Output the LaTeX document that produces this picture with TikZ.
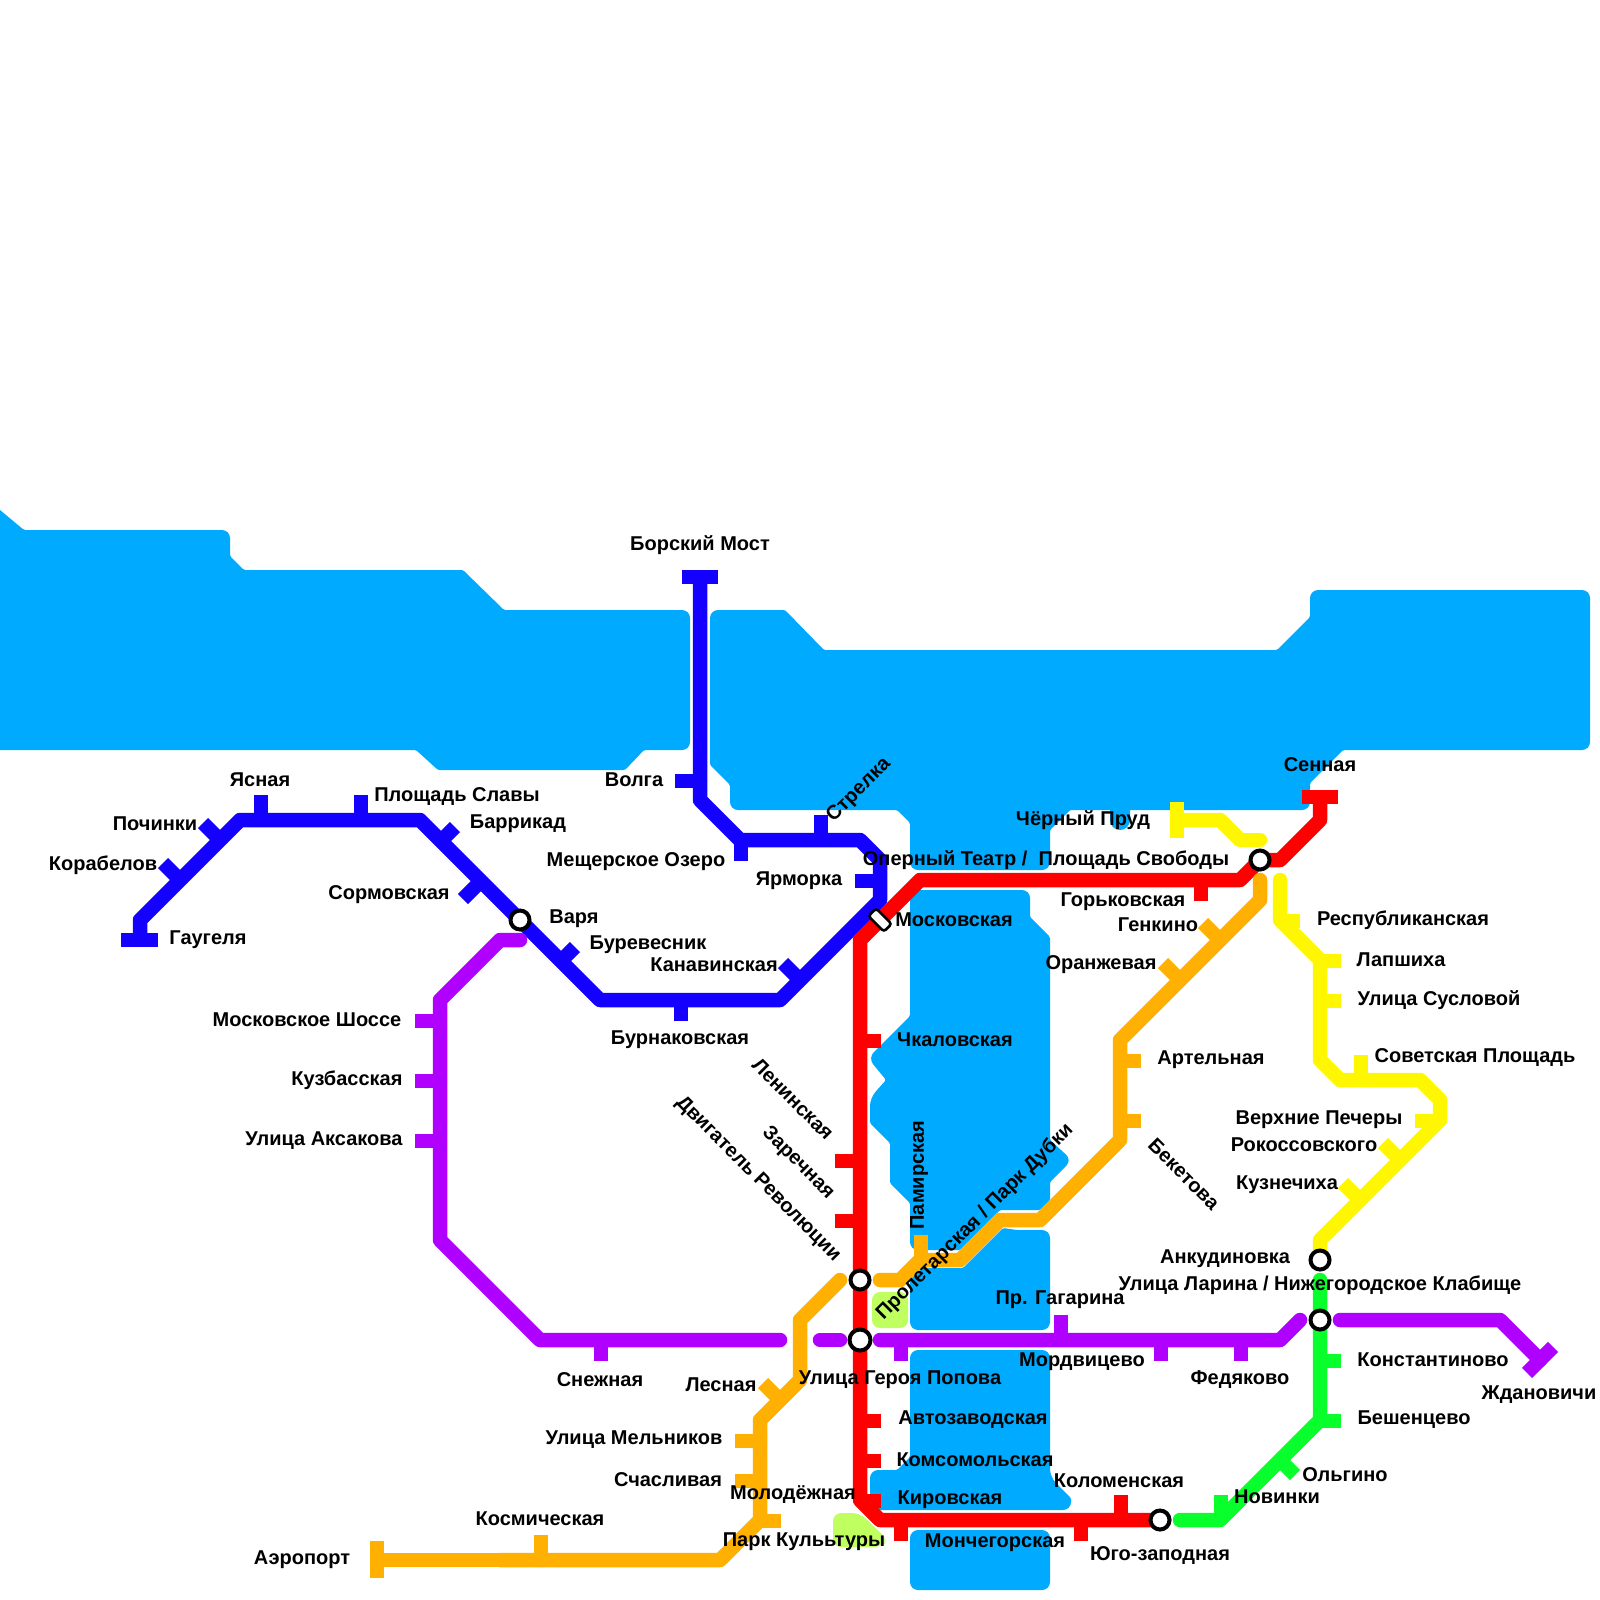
\documentclass[tikz,border=0pt]{standalone}
\usepackage{fontspec}
\setmainfont{Liberation Sans}
\usepackage{xcolor}
\definecolor{wat}{HTML}{00AAFF}
\definecolor{prk}{HTML}{C0FF60}
\definecolor{lblue}{HTML}{1400FF}
\definecolor{lred}{HTML}{FF0000}
\definecolor{lviolet}{HTML}{B000FF}
\definecolor{lorange}{HTML}{FFB000}
\definecolor{lyellow}{HTML}{FFF700}
\definecolor{lgreen}{HTML}{08FF2C}

\begin{document}
\begin{tikzpicture}[
  x=0.5pt, y=-0.5pt,
  water/.style={fill=wat, rounded corners=0.7pt},
  wr/.style={rounded corners=4pt},
  ws/.style={rounded corners=0.7pt},
  park/.style={fill=prk, rounded corners=4pt},
  metro/.style={line width=7.25pt, line join=round},
  endr/.style={metro, line cap=round},
  barb/.style={line width=7.1pt},
  tickb/.style={barb, xshift=0.5pt, yshift=-0.5pt},
  xfer/.style={circle, draw=black, fill=white, line width=2pt,
               minimum size=9.5pt, inner sep=0pt},
  rlbl/.style={font=\fontsize{10}{12}\selectfont\bfseries, inner sep=0pt, text=black},
  lbl/.style={rlbl, yshift=-1pt}
]
\useasboundingbox (0,0) rectangle (1600,1600);

\fill[water] (-10,500) -- (0,510) -- (24,530) [wr] -- (230,530) [ws] -- (230,556) -- (244,570) -- (463,570)
  -- (504,610) [wr] -- (690,610) -- (690,750) [ws] -- (644,750) -- (625,770) -- (438,770) -- (416,750)
  -- (-10,750) -- cycle;
\fill[water] (710,610) [ws] -- (785,610) -- (824,650) -- (1277,650) -- (1310,617) [wr] -- (1310,590)
  -- (1590,590) -- (1590,750) [ws] -- (1343,750) -- (1310,783) [wr] -- (1310,810) [ws] -- (1070,810)
  -- (1050,830) [wr] -- (1050,870) -- (910,870) [ws] -- (910,823) -- (897,810) [wr] -- (730,810)
  [ws] -- (730,785) -- (710,765) [wr] -- cycle;
\fill[wat, rounded corners=5pt] (1110,800) rectangle (1130,830);
\fill[water] (910,890) [wr] -- (1030,890) [ws] -- (1030,917) -- (1050,937) -- (1050,1140) [wr] -- (1072,1160)
  [ws] -- (1050,1182) -- (1050,1200) -- (1040,1210) -- (1000,1210) -- (960,1250) [wr] -- (910,1250)
  [ws] -- (910,1203) -- (890,1183) -- (890,1143) -- (870,1123) [wr] -- (870,1098) [ws] -- (886,1080)
  [wr] -- (868,1058) [ws] -- (910,1016) -- cycle;
\fill[water] (910,1268) -- (963,1268) -- (1003,1228) -- (1017,1230) [wr] -- (1050,1230) -- (1050,1330) -- (910,1330) -- cycle;
\fill[water] (910,1350) [wr] -- (1050,1350) -- (1050,1477) [ws] -- (1071,1498) [wr] -- (1071,1510)
  -- (870,1510) -- (870,1470) [ws] -- (897,1470) -- (910,1457) [wr] -- cycle;
\fill[wat, rounded corners=4pt] (910,1530) rectangle (1050,1590);

\fill[park] (872,1292) rectangle (908,1328);
\fill[park] (833,1513) -- (860,1513) -- (888,1540) -- (882,1547) -- (833,1547) -- cycle;

\coordinate (gaugel) at (140,940);
\coordinate (borsk) at (700,577);
\coordinate (aero) at (377,1560);
\coordinate (senn) at (1320,797);
\coordinate (chern) at (1177,820);
\coordinate (zhdan) at (1540,1360);
\coordinate (ank) at (1320,1260);
\coordinate (lar) at (1320,1320);
\coordinate (pl) at (1260,860);
\coordinate (dvig) at (860,1280);
\coordinate (gerp) at (860,1340);
\coordinate (yugo) at (1160,1520);
\coordinate (var) at (520,920);

% blue
\draw[metro, lblue] (gaugel) -- (140,920) -- (240,820) -- (420,820) -- (600,1000) -- (780,1000)
  -- (880,900) -- (880,860) -- (860,840) -- (740,840) -- (700,800) -- (borsk);
\draw[barb, lblue] (121,940) -- (158,940);
\draw[barb, lblue] (682,577) -- (718,577);
\foreach \px in {260,360} \draw[tickb, lblue] (\px,820) -- ++(0,-26);
\draw[tickb, lblue] (820,840) -- ++(0,-26);
\draw[tickb, lblue] (680,1000) -- ++(0,20);
\draw[tickb, lblue] (740,840) -- ++(0,20);
\draw[tickb, lblue] (880,880) -- ++(-26,0);
\draw[tickb, lblue] (700,780) -- ++(-26,0);
\draw[tickb, lblue] (220,840) -- ++(-18,-18);
\draw[tickb, lblue] (180,880) -- ++(-18,-18);
\draw[tickb, lblue] (440,840) -- ++(14,-14);
\draw[tickb, lblue] (480,880) -- ++(-18,18);
\draw[tickb, lblue] (560,960) -- ++(14,-14);
\draw[tickb, lblue] (800,980) -- ++(-18,-18);

% violet
\draw[endr, lviolet] (var) ++(0,20) -- (500,940) -- (440,1000) -- (440,1240) -- (540,1340) -- (780,1340);
\draw[endr, lviolet] (820,1340) -- (840,1340);
\draw[endr, lviolet] (880,1340) -- (1280,1340) -- (1300,1320);
\draw[metro, lviolet] (1340,1320) [line cap=round] -- (1500,1320) -- (zhdan);
\draw[barb, lviolet] (1527,1373) -- (1553,1347);
\foreach \py in {1020,1080,1140} \draw[tickb, lviolet] (440,\py) -- ++(-26,0);
\foreach \px in {600,900,1160,1240} \draw[tickb, lviolet] (\px,1340) -- ++(0,20);
\draw[tickb, lviolet] (1060,1340) -- ++(0,-26);

% red
\draw[metro, lred] (senn) -- (1320,820) -- (1280,860) -- (pl) -- (1240,880) -- (920,880) -- (860,940)
  -- (dvig) -- (gerp) -- (860,1500) -- (880,1520) -- (yugo);
\draw[barb, lred] (1302,797) -- (1338,797);
\draw[tickb, lred] (1200,880) -- ++(0,20);
\foreach \py in {1040,1420,1460,1500} \draw[tickb, lred] (860,\py) -- ++(20,0);
\foreach \py in {1160,1220} \draw[tickb, lred] (860,\py) -- ++(-26,0);
\foreach \px in {900,1080} \draw[tickb, lred] (\px,1520) -- ++(0,20);
\draw[tickb, lred] (1120,1520) -- ++(0,-26);

% orange
\draw[metro, lorange, line cap=round] (840,1280) -- (800,1320) -- (800,1380) -- (760,1420) -- (760,1520)
  -- (720,1560) -- (500,1560);
\draw[metro, lorange] (500,1560) -- (aero);
\draw[barb, lorange] (377,1541) -- (377,1578);
\draw[endr, lorange] (880,1280) -- (900,1280) -- (920,1260) -- (960,1260) -- (1000,1220) -- (1040,1220)
  -- (1120,1140) -- (1120,1040) -- (1260,900) -- (1260,880);
\draw[tickb, lorange] (920,1260) -- ++(0,-26);
\draw[tickb, lorange] (780,1400) -- ++(-18,-18);
\draw[tickb, lorange] (1220,940) -- ++(-18,-18);
\draw[tickb, lorange] (1180,980) -- ++(-18,-18);
\foreach \py in {1440,1480} \draw[tickb, lorange] (760,\py) -- ++(-26,0);
\draw[tickb, lorange] (760,1520) -- ++(20,0);
\draw[tickb, lorange] (540,1560) -- ++(0,-26);
\foreach \py in {1060,1120} \draw[tickb, lorange] (1120,\py) -- ++(20,0);

% yellow
\draw[metro, lyellow] (chern) -- (1220,820) -- (1240,840);
\draw[endr, lyellow] (1240,840) -- (1260,840);
\draw[barb, lyellow] (1177,802) -- (1177,838);
\draw[endr, lyellow] (1280,880) -- (1280,920) -- (1320,960) -- (1320,1060) -- (1340,1080) -- (1420,1080)
  -- (1440,1100) -- (1440,1120) -- (1320,1240) -- (ank);
\draw[tickb, lyellow] (1280,920) -- ++(19,0);
\foreach \py in {960,1000} \draw[tickb, lyellow] (1320,\py) -- ++(20,0);
\draw[tickb, lyellow] (1360,1080) -- ++(0,-26);
\draw[tickb, lyellow] (1440,1120) -- ++(-26,0);
\draw[tickb, lyellow] (1400,1160) -- ++(-18,-18);
\draw[tickb, lyellow] (1360,1200) -- ++(-18,-18);

% green
\draw[endr, lgreen] (1180,1520) -- (1220,1520) -- (1320,1420) -- (lar) -- (1320,1280);
\draw[tickb, lgreen] (1220,1520) -- ++(0,-26);
\draw[tickb, lgreen] (1280,1460) -- ++(14,14);
\foreach \py in {1360,1420} \draw[tickb, lgreen] (1320,\py) -- ++(20,0);

\node[xfer] (nvar) at (var) {};
\node[xfer] (npl) at (pl) {};
\node[xfer] (ndvig) at (dvig) {};
\node[xfer, minimum size=10.5pt] (ngerp) at (gerp) {};
\node[xfer] (nyugo) at (yugo) {};
\node[xfer] (nank) at (ank) {};
\node[xfer] (nlar) at (lar) {};
\node[draw=black, fill=white, line width=1.3pt, rounded corners=1.5pt, rotate=-45,
      minimum width=11pt, minimum height=5.5pt, inner sep=0pt] (nmosk) at (880,920) {};

\node[lbl] (t1) at (208,938) {Гаугеля};
\node[lbl] (t2) at (103,863) {Корабелов};
\node[lbl] (t3) at (155,822) {Починки};
\node[lbl] (t4) at (260,778) {Ясная};
\node[lbl] (t5) at (457,795) {Площадь Славы};
\node[lbl] (t6) at (518,822) {Баррикад};
\node[lbl] (t7) at (389,893) {Сормовская};
\node[lbl] (t8) at (574,917) {Варя};
\node[lbl] (t9) at (648,943) {Буревесник};
\node[lbl] (t10) at (714,963) {Канавинская};
\node[lbl] (t11) at (680,1038) {Бурнаковская};
\node[lbl] (t12) at (634,778) {Волга};
\node[lbl] (t13) at (700,543) {Борский Мост};
\node[lbl] (t14) at (636,860) {Мещерское Озеро};
\node[lbl] (t15) at (799,879) {Ярморка};
\node[rlbl, rotate=45] (t16) at (859,790) {Стрелка};
\node[lbl] (t17) at (1046,858) {Оперный Театр /\ \ Площадь Свободы};
\node[lbl] (t18) at (1083,818) {Чёрный Пруд};
\node[lbl] (t19) at (1320,763) {Сенная};
\node[lbl] (t20) at (1123,900) {Горьковская};
\node[lbl] (t21) at (1158,923) {Генкино};
\node[lbl] (t22) at (954,918) {Московская};
\node[lbl] (t23) at (1101,963) {Оранжевая};
\node[lbl] (t24) at (1403,918) {Республиканская};
\node[lbl] (t25) at (1401,958) {Лапшиха};
\node[lbl] (t26) at (1439,998) {Улица Сусловой};
\node[lbl] (t27) at (955,1038) {Чкаловская};
\node[lbl] (t28) at (1211,1058) {Артельная};
\node[lbl] (t29) at (1475,1055) {Советская Площадь};
\node[lbl] (t30) at (1319,1118) {Верхние Печеры};
\node[lbl] (t31) at (1304,1143) {Рокоссовского};
\node[lbl] (t32) at (1287,1183) {Кузнечиха};
\node[lbl] (t33) at (1225,1257) {Анкудиновка};
\node[lbl] (t34) at (1320,1283) {Улица Ларина / Нижегородское Клабище};
\node[lbl] (t35) at (307,1018) {Московское Шоссе};
\node[lbl] (t36) at (347,1078) {Кузбасская};
\node[lbl] (t37) at (324,1139) {Улица Аксакова};
\node[lbl] (t38) at (600,1378) {Снежная};
\node[lbl] (t39) at (1082,1360) {Мордвицево};
\node[lbl] (t40) at (1240,1378) {Федяково};
\node[lbl] (t41) at (1060,1298) {Пр. Гагарина};
\node[lbl] (t42) at (1433,1358) {Константиново};
\node[lbl] (t43) at (1414,1418) {Бешенцево};
\node[lbl] (t44) at (1539,1393) {Ждановичи};
\node[lbl] (t45) at (1345,1473) {Ольгино};
\node[lbl] (t46) at (1277,1495) {Новинки};
\node[lbl] (t47) at (1119,1479) {Коломенская};
\node[lbl] (t48) at (1160,1553) {Юго-заподная};
\node[lbl] (t49) at (995,1541) {Мончегорская};
\node[lbl] (t50) at (950,1498) {Кировская};
\node[lbl] (t51) at (975,1458) {Комсомольская};
\node[lbl] (t52) at (973,1418) {Автозаводская};
\node[lbl] (t53) at (900,1378) {Улица Героя Попова};
\node[lbl] (t54) at (721,1383) {Лесная};
\node[lbl] (t55) at (634,1438) {Улица Мельников};
\node[lbl] (t56) at (668,1478) {Счасливая};
\node[lbl] (t57) at (793,1493) {Молодёжная};
\node[lbl] (t58) at (804,1540) {Парк Кулььтуры};
\node[lbl] (t59) at (540,1517) {Космическая};
\node[lbl] (t60) at (302,1558) {Аэропорт};
\node[rlbl, rotate=-45] (t61) at (793,1099) {Ленинская};
\node[rlbl, rotate=-45] (t62) at (798,1163) {Заречная};
\node[rlbl, rotate=-45] (t63) at (758,1179) {Двигатель Революции};
\node[rlbl, rotate=-45] (t64) at (1184,1174) {Бекетова};
\node[rlbl, rotate=90] (t65) at (919,1175) {Памирская};
\node[rlbl, rotate=45] (t66) at (975,1222) {Пролетарская / Парк Дубки};
\end{tikzpicture}
\end{document}
